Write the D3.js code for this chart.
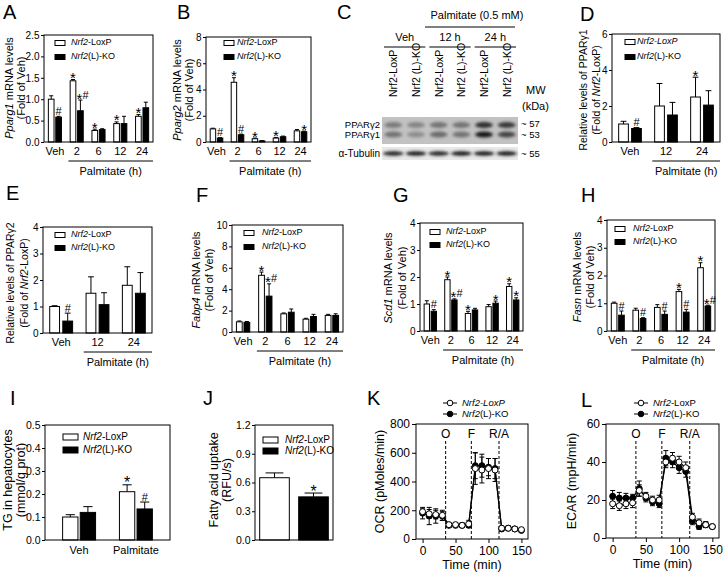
<!DOCTYPE html>
<html><head><meta charset="utf-8">
<script src="https://cdn.jsdelivr.net/npm/d3@7"></script>
<style>body{margin:0;background:#fff} svg{display:block} text{font-family:'Liberation Sans',Arial,Helvetica,sans-serif;fill:#000}</style>
</head><body><svg id="c" width="723" height="572"></svg>
<script>
// ---------------- DATA ----------------
const timeCats = ["Veh","2","6","12","24"];
const palCats = ["Veh","12","24"];
// A: Pparg1
const A_lox = [1.0,1.43,0.27,0.43,0.6], A_loxE = [0.08,0.03,0.03,0.04,0.04];
const A_ko = [0.58,0.73,0.29,0.43,0.8], A_koE = [0.02,0.25,0.02,0.17,0.13];
const A_loxS = ["","*","*","*","*"], A_koS = ["#","*#","","",""];
// B: Pparg2
const B_lox = [1.0,4.55,0.25,0.3,0.85], B_loxE = [0.05,0.35,0.05,0.05,0.1];
const B_ko = [0.3,0.55,0.08,0.4,0.78], B_koE = [0.03,0.05,0.02,0.05,0.05];
const B_loxS = ["","*","*","*",""], B_koS = ["#","#","","","*"];
// D: PPARg1 protein
const D_lox = [1.0,2.0,2.5], D_loxE = [0.15,1.25,1.1];
const D_ko = [0.75,1.5,2.05], D_koE = [0.05,0.7,0.8];
const D_loxS = ["","","*"], D_koS = ["#","",""];
// E: PPARg2 protein
const E_lox = [1.0,1.5,1.8], E_loxE = [0.03,0.62,0.7];
const E_ko = [0.45,1.07,1.5], E_koE = [0.3,0.45,0.78];
const E_loxS = ["","",""], E_koS = ["#","",""];
// F: Fabp4
const F_lox = [0.95,5.3,1.7,1.2,1.55], F_loxE = [0.08,0.3,0.08,0.08,0.1];
const F_ko = [0.9,3.35,1.85,1.45,1.55], F_koE = [0.08,1.15,0.3,0.2,0.15];
const F_loxS = ["","*","","",""], F_koS = ["","*#","","",""];
// G: Scd1
const G_lox = [1.0,1.9,0.65,0.9,1.65], G_loxE = [0.12,0.1,0.08,0.08,0.1];
const G_ko = [0.73,1.15,0.78,1.03,1.15], G_koE = [0.06,0.04,0.06,0.08,0.08];
const G_loxS = ["","*","*","","*"], G_koS = ["#","*#","","*","*"];
// H: Fasn
const H_lox = [1.0,0.75,0.85,1.42,2.28], H_loxE = [0.04,0.07,0.1,0.08,0.18];
const H_ko = [0.57,0.45,0.6,0.68,0.9], H_koE = [0.15,0.03,0.12,0.1,0.03];
const H_loxS = ["","","","*","*"], H_koS = ["#","#","#","#","*#"];
// I: TG
const I_cats = ["Veh","Palmitate"];
const I_lox = [0.1,0.21], I_loxE = [0.01,0.03];
const I_ko = [0.12,0.135], I_koE = [0.025,0.03];
const I_loxS = ["","*"], I_koS = ["","#"];
// J: fatty acid uptake
const J_cats = [""];
const J_lox = [0.65], J_loxE = [0.05];
const J_ko = [0.45], J_koE = [0.04];
const J_loxS = [""], J_koS = ["*"];
// K, L: Seahorse
const seaTime = [0,10,20,30,40,50,60,70,80,90,100,110,120,130,140,150];
const K_lox = [190,175,170,165,100,100,95,105,490,480,490,480,75,75,70,65];
const K_loxE = [20,30,30,35,15,15,15,25,110,90,70,80,15,15,15,15];
const K_ko = [180,160,160,160,95,95,95,95,510,510,500,490,70,75,70,60];
const K_koE = [40,60,50,30,15,15,15,15,90,80,60,70,15,15,10,15];
const L_lox = [18,17,18,18.5,25,22,20,20,40,42,40,37,11,8,7,6];
const L_loxE = [2.5,2.5,2.5,2.5,3,2,2,2.5,3,3,3,3,2,2,1.5,1];
const L_ko = [22,21,21,21,26,21,19,18,42,40,37,35,9,6,7,6];
const L_koE = [3,3,2.5,2,4,2,2,2,4,3,3,3,2,1.5,1.5,1];
const injections = [{t:35,label:"O"},{t:74,label:"F"},{t:116,label:"R/A"}];
// C: western blot
const blotLanes = [["Nrf2","-LoxP"],["Nrf2"," (L)-KO"],["Nrf2","-LoxP"],["Nrf2"," (L)-KO"],["Nrf2","-LoxP"],["Nrf2"," (L)-KO"]];
const bandG2 = [0.45,0.4,0.5,0.5,0.85,0.8];
const bandG1 = [0.5,0.35,0.55,0.5,0.95,0.75];
const bandTub = [0.9,0.95,0.9,0.95,0.95,0.95];

// ---------------- HELPERS ----------------
const svg = d3.select("#c");
const I = s => ({t:s,i:true});
function rich(sel, segs){
  segs.forEach(s=>{
    if (typeof s === "string") sel.append("tspan").text(s);
    else sel.append("tspan").attr("font-style", s.i?"italic":null).text(s.t);
  });
  return sel;
}
function letter(t,x,y){ svg.append("text").attr("x",x).attr("y",y).attr("font-size",20).text(t); }
function ylab(lines,x1,x2,cy,fs){
  const xs=[x1,x2];
  lines.forEach((ln,k)=>{
    const t = svg.append("text").attr("transform",`translate(${xs[k]},${cy}) rotate(-90)`)
      .attr("text-anchor","middle").attr("dominant-baseline","middle").attr("font-size",fs||11);
    rich(t,ln);
  });
}
function legendBars(o){
  const sw=o.sw||10, sh=o.sh||5;
  [[o.lab1,"#fff"],[o.lab2,"#000"]].forEach((d,k)=>{
    const y=o.y+k*o.dy;
    svg.append("rect").attr("x",o.x).attr("y",y-sh/2).attr("width",sw).attr("height",sh)
      .attr("fill",d[1]).attr("stroke","#000").attr("stroke-width",1);
    rich(svg.append("text").attr("x",o.tx).attr("y",y).attr("dominant-baseline","middle").attr("font-size",o.fs||9),d[0]);
  });
}
const labLox = [I("Nrf2"),"-LoxP"], labKo = [I("Nrf2"),"(L)-KO"];

function sigText(g, s, cx, top, starFs){
  if (s==="#"){
    g.append("text").attr("x",cx).attr("y",top-1.5).attr("text-anchor","middle").attr("font-size",11).text("#");
  } else if (s==="*"){
    g.append("text").attr("x",cx).attr("y",top+3.5).attr("text-anchor","middle").attr("font-size",starFs).text("*");
  } else if (s==="*#"){
    g.append("text").attr("x",cx-4).attr("y",top+3.5).attr("font-size",starFs).text("*");
    g.append("text").attr("x",cx+2).attr("y",top-1.5).attr("font-size",11).text("#");
  }
}

function barPanel(o){
  const x = d3.scaleBand().domain(o.cats).range([o.l,o.r]).paddingOuter(o.po||0);
  const y = d3.scaleLinear().domain(o.dom).range([o.b,o.t]);
  const bwid = x.bandwidth();
  const bw = bwid*o.bw, gap = bwid*o.gap;
  const series = [
    {v:o.lox,e:o.loxE,s:o.loxS,fill:"#fff",off:-gap/2-bw},
    {v:o.ko,e:o.koE,s:o.koS,fill:"#000",off:gap/2}
  ];
  const g = svg.append("g");
  series.forEach(sr=>{
    o.cats.forEach((c,i)=>{
      const x0 = x(c)+bwid/2+sr.off, cx = x0+bw/2;
      const top = y(sr.v[i]+sr.e[i]);
      g.append("line").attr("x1",cx).attr("x2",cx).attr("y1",y(sr.v[i])).attr("y2",top).attr("stroke","#000");
      const cw = Math.max(2, bw*0.3);
      g.append("line").attr("x1",cx-cw).attr("x2",cx+cw).attr("y1",top).attr("y2",top).attr("stroke","#000");
      g.append("rect").attr("x",x0).attr("y",y(sr.v[i])).attr("width",bw).attr("height",y(0)-y(sr.v[i]))
        .attr("fill",sr.fill).attr("stroke","#000").attr("stroke-width",1);
      if (sr.s[i]) sigText(g, sr.s[i], cx, top, o.sfs||15);
    });
  });
  g.append("rect").attr("x",o.l).attr("y",o.t).attr("width",o.r-o.l).attr("height",o.b-o.t)
    .attr("fill","none").attr("stroke","#000").attr("stroke-width",1);
  const ax = g.append("g").attr("transform",`translate(${o.l},0)`)
    .call(d3.axisLeft(y).tickValues(o.ticks).tickSize(3).tickPadding(1.5).tickFormat(d3.format(o.fmt)));
  ax.select(".domain").remove();
  ax.selectAll("text").attr("font-size",o.yfs||10).attr("font-family",null);
  if (o.xlabels!==false){
    const bx = g.append("g").attr("transform",`translate(0,${o.b})`)
      .call(d3.axisBottom(x).tickSize(0).tickPadding(o.xpad||5));
    bx.select(".domain").remove();
    bx.selectAll("text").attr("font-size",o.tfs||11).attr("font-family",null);
  }
  if (o.bracket){
    const bx0 = x(o.cats[1])+bwid*0.12;
    g.append("line").attr("x1",bx0).attr("x2",o.r).attr("y1",o.b+19).attr("y2",o.b+19).attr("stroke","#000");
    g.append("text").attr("x",(bx0+o.r)/2).attr("y",o.b+33).attr("text-anchor","middle").attr("font-size",11).text("Palmitate (h)");
  }
  legendBars(o.legend);
}

function linePanel(o){
  const x = d3.scaleLinear().domain([-10,160]).range([o.l,o.r]);
  const y = d3.scaleLinear().domain(o.dom).range([o.b,o.t]);
  const g = svg.append("g");
  g.append("rect").attr("x",o.l).attr("y",o.t).attr("width",o.r-o.l).attr("height",o.b-o.t)
    .attr("fill","none").attr("stroke","#000");
  injections.forEach(d=>{
    g.append("line").attr("x1",x(d.t)).attr("x2",x(d.t)).attr("y1",o.t+17).attr("y2",o.b)
      .attr("stroke","#000").attr("stroke-dasharray","3,2");
    g.append("text").attr("x",x(d.t)).attr("y",o.t+14).attr("text-anchor","middle").attr("font-size",12).text(d.label);
  });
  const line = d3.line().x((d,i)=>x(seaTime[i])).y(d=>y(d));
  [[o.ko,o.koE,"#000"],[o.lox,o.loxE,"#fff"]].forEach(([v,e,f])=>{
    g.append("path").attr("d",line(v)).attr("fill","none").attr("stroke","#000").attr("stroke-width",1.2);
    v.forEach((d,i)=>{
      const cx=x(seaTime[i]);
      g.append("line").attr("x1",cx).attr("x2",cx).attr("y1",y(d-e[i])).attr("y2",y(d+e[i])).attr("stroke","#000");
      [d-e[i],d+e[i]].forEach(q=>g.append("line").attr("x1",cx-2.5).attr("x2",cx+2.5).attr("y1",y(q)).attr("y2",y(q)).attr("stroke","#000"));
      g.append("circle").attr("cx",cx).attr("cy",y(d)).attr("r",3).attr("fill",f).attr("stroke","#000").attr("stroke-width",1);
    });
  });
  const ay = g.append("g").attr("transform",`translate(${o.l},0)`)
    .call(d3.axisLeft(y).tickValues(o.ticks).tickSize(4).tickPadding(2));
  ay.select(".domain").remove();
  ay.selectAll("text").attr("font-size",12).attr("font-family",null);
  const axx = g.append("g").attr("transform",`translate(0,${o.b})`)
    .call(d3.axisBottom(x).tickValues([0,50,100,150]).tickSize(4).tickPadding(3));
  axx.select(".domain").remove();
  axx.selectAll("text").attr("font-size",12).attr("font-family",null);
  g.append("text").attr("x",(o.l+o.r)/2).attr("y",o.b+30).attr("text-anchor","middle").attr("font-size",12.5).text("Time (min)");
  ylab([[o.ylab]],o.ylx,0,(o.t+o.b)/2,12.5);
  [[o.lab1,"#fff"],[o.lab2,"#000"]].forEach((d,k)=>{
    const yy=o.legY+k*11;
    svg.append("line").attr("x1",o.legX-7).attr("x2",o.legX+7).attr("y1",yy).attr("y2",yy).attr("stroke","#000");
    svg.append("circle").attr("cx",o.legX).attr("cy",yy).attr("r",2.8).attr("fill",d[1]).attr("stroke","#000");
    rich(svg.append("text").attr("x",o.legX+12).attr("y",yy).attr("dominant-baseline","middle").attr("font-size",9.5),d[0]);
  });
}

// ---------------- PANELS ----------------
letter("A",3,19);
barPanel({cats:timeCats,l:44,r:153,t:35,b:142,dom:[0,2.5],ticks:[0,0.5,1,1.5,2,2.5],fmt:".1f",bw:0.26,gap:0.08,
  lox:A_lox,loxE:A_loxE,ko:A_ko,koE:A_koE,loxS:A_loxS,koS:A_koS,bracket:true,
  legend:{x:55,y:43,dy:14,tx:71,lab1:labLox,lab2:labKo}});
ylab([[I("Pparg1")," mRNA levels"],["(Fold of Veh)"]],10,22,88);

letter("B",177,19);
barPanel({cats:timeCats,l:206,r:311,t:37,b:142,dom:[0,8],ticks:[0,2,4,6,8],fmt:"d",bw:0.26,gap:0.08,
  lox:B_lox,loxE:B_loxE,ko:B_ko,koE:B_koE,loxS:B_loxS,koS:B_koS,bracket:true,
  legend:{x:224,y:43,dy:14,tx:237,lab1:labLox,lab2:labKo}});
ylab([[I("Pparg2")," mRNA levels"],["(Fold of Veh)"]],178,190,90);

letter("D",580,21);
barPanel({cats:palCats,l:612,r:720,t:34,b:142,dom:[0,6],ticks:[0,2,4,6],fmt:"d",bw:0.27,gap:0.09,
  lox:D_lox,loxE:D_loxE,ko:D_ko,koE:D_koE,loxS:D_loxS,koS:D_koS,bracket:true,
  legend:{x:625,y:42,dy:15,tx:637,lab1:[I("Nrf2-LoxP")],lab2:labKo}});
ylab([["Relative levels of PPARγ1"],["(Fold of ",I("Nrf2"),"-LoxP)"]],584,597,90,10.5);

letter("E",6,200);
barPanel({cats:palCats,l:43,r:152,t:227,b:333,dom:[0,4],ticks:[0,1,2,3,4],fmt:"d",bw:0.27,gap:0.09,
  lox:E_lox,loxE:E_loxE,ko:E_ko,koE:E_koE,loxS:E_loxS,koS:E_koS,bracket:true,
  legend:{x:55,y:235,dy:13,tx:71,lab1:labLox,lab2:labKo}});
ylab([["Relative levels of PPARγ2"],["(Fold of ",I("Nrf2"),"-LoxP)"]],11,25,283,10.5);

letter("F",196,202);
barPanel({cats:timeCats,l:232,r:343,t:225,b:332,dom:[0,10],ticks:[0,2,4,6,8,10],fmt:"d",bw:0.26,gap:0.08,
  lox:F_lox,loxE:F_loxE,ko:F_ko,koE:F_koE,loxS:F_loxS,koS:F_koS,bracket:true,
  legend:{x:244,y:233,dy:14,tx:262,lab1:labLox,lab2:labKo}});
ylab([[I("Fabp4")," mRNA levels"],["(Fold of Veh)"]],197,210,280);

letter("G",393,202);
barPanel({cats:timeCats,l:420,r:523,t:223,b:331,dom:[0,4],ticks:[0,1,2,3,4],fmt:"d",bw:0.26,gap:0.08,
  lox:G_lox,loxE:G_loxE,ko:G_ko,koE:G_koE,loxS:G_loxS,koS:G_koS,bracket:true,
  legend:{x:430,y:232,dy:13,tx:446,lab1:labLox,lab2:labKo}});
ylab([[I("Scd1")," mRNA levels"],["(Fold of Veh)"]],389,403,278);

letter("H",581,202);
barPanel({cats:timeCats,l:607,r:715,t:220,b:331,dom:[0,4],ticks:[0,1,2,3,4],fmt:"d",bw:0.26,gap:0.08,
  lox:H_lox,loxE:H_loxE,ko:H_ko,koE:H_koE,loxS:H_loxS,koS:H_koS,bracket:true,
  legend:{x:615,y:229,dy:13,tx:633,lab1:labLox,lab2:labKo}});
ylab([[I("Fasn")," mRNA levels"],["(Fold of Veh)"]],578,591,277);

letter("I",10,405);
barPanel({cats:I_cats,l:45,r:170,t:425,b:540,po:0.1,dom:[0,0.5],ticks:[0,0.1,0.2,0.3,0.4,0.5],fmt:".1f",bw:0.27,gap:0.04,
  lox:I_lox,loxE:I_loxE,ko:I_ko,koE:I_koE,loxS:I_loxS,koS:I_koS,bracket:false,xpad:6,tfs:11,yfs:10.5,sfs:16,
  legend:{x:63,y:437,dy:13,tx:83,sw:15,sh:6,fs:10,lab1:labLox,lab2:labKo}});
ylab([["TG in hepatocytes"],["(mmol/g prot)"]],9,22,480,12.5);

letter("J",203,405);
barPanel({cats:J_cats,l:255,r:333,t:425,b:540,dom:[0,1.2],ticks:[0,0.3,0.6,0.9,1.2],fmt:".1f",bw:0.38,gap:0.12,
  lox:J_lox,loxE:J_loxE,ko:J_ko,koE:J_koE,loxS:J_loxS,koS:J_koS,bracket:false,xlabels:false,yfs:10.5,sfs:16,
  legend:{x:263,y:440,dy:11,tx:285,sw:15,sh:6,fs:10,lab1:labLox,lab2:labKo}});
ylab([["Fatty acid uptake"],["(RFU/s)"]],215,228,480,12.5);

letter("K",367,405);
linePanel({l:416,r:528,t:424,b:539,dom:[0,800],ticks:[0,200,400,600,800],lox:K_lox,loxE:K_loxE,ko:K_ko,koE:K_koE,
  ylab:"OCR (pMoles/min)",ylx:381,legX:450,legY:403,lab1:[I("Nrf2-LoxP")],lab2:labKo});

letter("L",581,407);
linePanel({l:606,r:719,t:424,b:538,dom:[0,60],ticks:[0,20,40,60],lox:L_lox,loxE:L_loxE,ko:L_ko,koE:L_koE,
  ylab:"ECAR (mpH/min)",ylx:573,legX:641,legY:403,lab1:labLox,lab2:labKo});

// ---------------- C: western blot ----------------
letter("C",337,19);
const defs = svg.append("defs");
defs.append("filter").attr("id","blur").append("feGaussianBlur").attr("stdDeviation",1.4);
const lane = d3.scaleBand().domain(d3.range(blotLanes.length)).range([382,518]);
svg.append("text").attr("x",477).attr("y",19).attr("text-anchor","middle").attr("font-size",11).text("Palmitate (0.5 mM)");
svg.append("line").attr("x1",425).attr("x2",515).attr("y1",27).attr("y2",27).attr("stroke","#000");
[["Veh",0],["12 h",2],["24 h",4]].forEach(([t,i])=>{
  const x0=lane(i)+2, x1=lane(i+1)+lane.bandwidth()-2;
  svg.append("text").attr("x",(x0+x1)/2).attr("y",41).attr("text-anchor","middle").attr("font-size",11).text(t);
  svg.append("line").attr("x1",x0).attr("x2",x1).attr("y1",47).attr("y2",47).attr("stroke","#000");
});
blotLanes.forEach((lb,i)=>{
  const cx = lane(i)+lane.bandwidth()/2;
  rich(svg.append("text").attr("transform",`translate(${cx+4},97) rotate(-90)`).attr("font-size",10.5),lb);
});
svg.append("text").attr("x",526).attr("y",94).attr("font-size",11).text("MW");
svg.append("text").attr("x",522).attr("y",110).attr("font-size",11).text("(kDa)");
svg.append("rect").attr("x",382).attr("y",117).attr("width",136).attr("height",27).attr("fill","#c2c2c2");
svg.append("rect").attr("x",382).attr("y",147).attr("width",136).attr("height",13).attr("fill","#e8e8e8");
const gb = svg.append("g").attr("filter","url(#blur)");
const shade = v => d3.interpolateGreys(0.3+0.65*v);
bandG2.forEach((v,i)=>{
  const cx = lane(i)+lane.bandwidth()/2;
  gb.append("ellipse").attr("cx",cx).attr("cy",125).attr("rx",9).attr("ry",3).attr("fill",shade(v));
});
bandG1.forEach((v,i)=>{
  const cx = lane(i)+lane.bandwidth()/2;
  gb.append("ellipse").attr("cx",cx).attr("cy",134.5).attr("rx",9).attr("ry",3).attr("fill",shade(v));
});
bandTub.forEach((v,i)=>{
  const cx = lane(i)+lane.bandwidth()/2;
  gb.append("ellipse").attr("cx",cx).attr("cy",153.5).attr("rx",10.5).attr("ry",2.2).attr("fill",shade(v));
});
svg.append("text").attr("x",380).attr("y",127.5).attr("text-anchor","end").attr("font-size",9.5).text("PPARγ2");
svg.append("text").attr("x",380).attr("y",138).attr("text-anchor","end").attr("font-size",9.5).text("PPARγ1");
svg.append("text").attr("x",380).attr("y",157).attr("text-anchor","end").attr("font-size",10).text("α-Tubulin");
[["~ 57",127],["~ 53",137.5],["~ 55",157]].forEach(([t,y])=>svg.append("text").attr("x",521).attr("y",y).attr("font-size",9.5).text(t));
</script></body></html>
